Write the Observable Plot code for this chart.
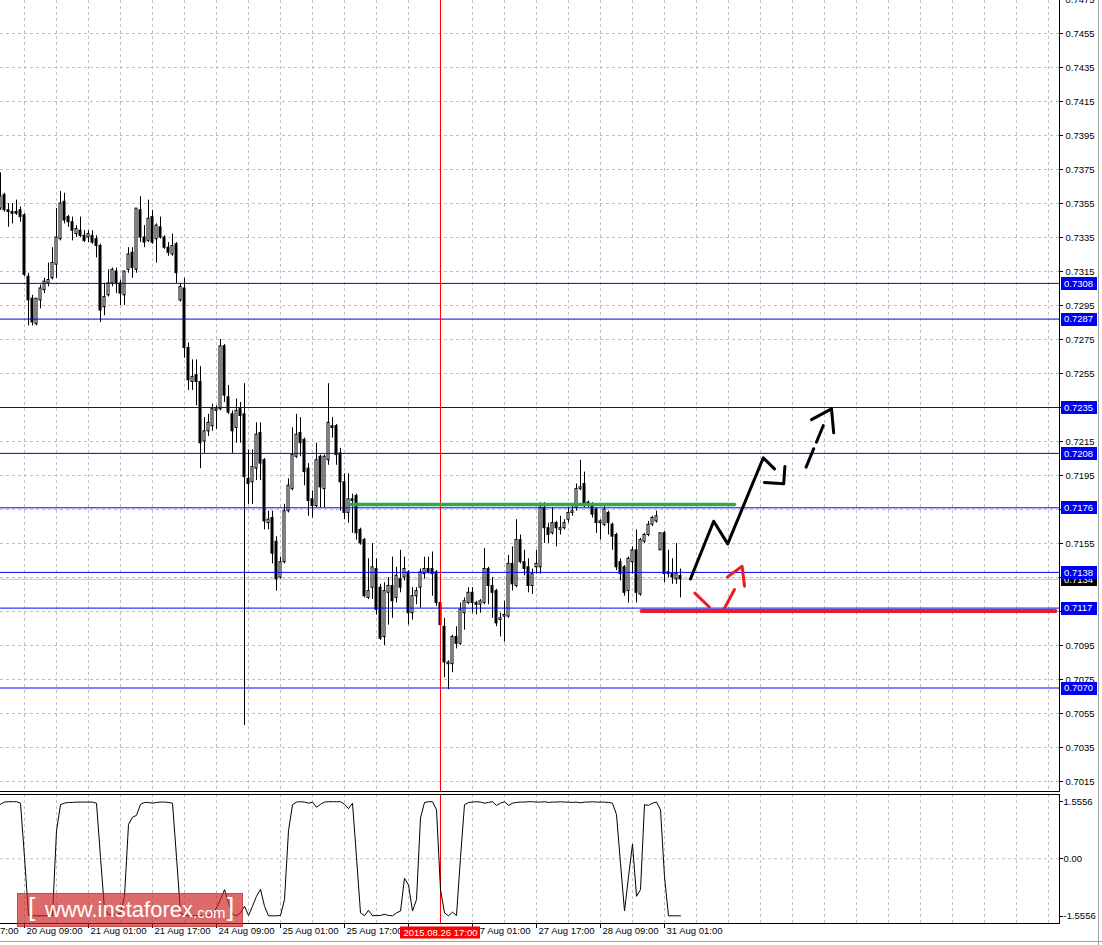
<!DOCTYPE html>
<html><head><meta charset="utf-8">
<script src="https://cdn.jsdelivr.net/npm/d3@7"></script>
<script src="https://cdn.jsdelivr.net/npm/@observablehq/plot@0.6"></script>
<style>
html,body{margin:0;padding:0;background:#fff;}
#wrap{position:relative;width:1102px;height:945px;overflow:hidden;font-family:"Liberation Sans",Arial,sans-serif;}
#wrap svg{position:absolute;left:0;display:block;}
#wm{position:absolute;left:17px;top:893px;width:226px;height:34px;background:rgba(205,30,30,0.66);border:1px solid rgba(170,40,40,0.45);box-sizing:border-box;color:#fff;white-space:nowrap;}
#wm span{position:absolute;}
#edgeR{position:absolute;left:1098px;top:0;width:1px;height:945px;background:#a0a0a0;}
#edgeB{position:absolute;left:0;top:941px;width:1102px;height:1px;background:#a0a0a0;}
</style></head><body><div id="wrap"></div>
<script>
// ---------- data ----------
const firstBar = -6; // bar index of the first candle (bar 0 = 20 Aug 09:00, H1)
const openP = [0.7352,0.7360,0.7351,0.7350,0.7350,0.7351,
0.7348,0.7312,0.7299,0.7284,0.7298,0.7304,0.7308,0.7311,0.7319,0.7334,
0.7356,0.7347,0.7344,0.7337,0.7339,0.7336,0.7335,0.7336,0.7334,0.7330,
0.7294,0.7301,0.7308,0.7315,0.7308,0.7301,0.7316,0.7326,0.7316,0.7351,
0.7335,0.7333,0.7347,0.7334,0.7341,0.7335,0.7329,0.7325,0.7331,0.7298,
0.7305,0.7270,0.7250,0.7254,0.7250,0.7215,0.7221,0.7224,0.7233,0.7234,
0.7271,0.7241,0.7231,0.7223,0.7234,0.7231,0.7193,0.7191,0.7199,0.7220,
0.7204,0.7167,0.7170,0.7156,0.7135,0.7144,0.7174,0.7187,0.7206,0.7220,
0.7216,0.7199,0.7181,0.7177,0.7206,0.7187,0.7204,0.7224,0.7224,0.7208,
0.7191,0.7173,0.7181,0.7183,0.7163,0.7157,0.7123,0.7129,0.7140,0.7129,
0.7100,0.7126,0.7130,0.7123,0.7134,0.7135,0.7138,0.7114,0.7124,0.7129,
0.7137,0.7140,0.7140,0.7138,0.7120,0.7106,0.7084,0.7084,0.7100,0.7096,
0.7114,0.7120,0.7126,0.7120,0.7119,0.7120,0.7140,0.7130,0.7127,0.7110,
0.7112,0.7112,0.7143,0.7130,0.7157,0.7144,0.7141,0.7130,0.7141,0.7141,
0.7176,0.7164,0.7161,0.7167,0.7163,0.7164,0.7169,0.7173,0.7176,0.7187,
0.7190,0.7179,0.7177,0.7175,0.7167,0.7166,0.7173,0.7166,0.7160,0.7144,
0.7141,0.7127,0.7144,0.7151,0.7125,0.7156,0.7160,0.7166,0.7168,0.7151,
0.7161,0.7138,0.7137,0.7134,0.7136];
const highP = [0.7373,0.7361,0.7355,0.7355,0.7357,0.7353,
0.7349,0.7314,0.7301,0.7299,0.7307,0.7311,0.7320,0.7329,0.7352,0.7362,
0.7361,0.7348,0.7347,0.7342,0.7347,0.7339,0.7339,0.7339,0.7336,0.7331,
0.7308,0.7316,0.7317,0.7317,0.7310,0.7315,0.7329,0.7329,0.7352,0.7359,
0.7342,0.7357,0.7351,0.7343,0.7347,0.7336,0.7332,0.7337,0.7332,0.7308,
0.7311,0.7273,0.7263,0.7263,0.7259,0.7229,0.7231,0.7237,0.7236,0.7275,
0.7272,0.7248,0.7233,0.7240,0.7238,0.7249,0.7210,0.7210,0.7226,0.7226,
0.7205,0.7174,0.7174,0.7159,0.7147,0.7178,0.7193,0.7223,0.7231,0.7229,
0.7217,0.7202,0.7186,0.7214,0.7207,0.7207,0.7249,0.7229,0.7225,0.7211,
0.7196,0.7196,0.7184,0.7184,0.7164,0.7158,0.7146,0.7155,0.7146,0.7131,
0.7132,0.7135,0.7147,0.7141,0.7151,0.7147,0.7139,0.7129,0.7129,0.7140,
0.7147,0.7147,0.7150,0.7139,0.7121,0.7111,0.7086,0.7101,0.7106,0.7120,
0.7123,0.7129,0.7129,0.7121,0.7122,0.7152,0.7141,0.7135,0.7128,0.7114,
0.7121,0.7148,0.7153,0.7169,0.7160,0.7151,0.7146,0.7140,0.7151,0.7179,
0.7179,0.7167,0.7176,0.7168,0.7171,0.7169,0.7176,0.7178,0.7190,0.7204,
0.7197,0.7180,0.7179,0.7176,0.7169,0.7178,0.7174,0.7167,0.7161,0.7146,
0.7142,0.7147,0.7153,0.7163,0.7158,0.7161,0.7168,0.7171,0.7174,0.7161,
0.7162,0.7151,0.7146,0.7155,0.7140];
const lowP = [0.7351,0.7350,0.7341,0.7343,0.7348,0.7344,
0.7312,0.7283,0.7283,0.7283,0.7293,0.7302,0.7306,0.7310,0.7311,0.7333,
0.7343,0.7341,0.7333,0.7335,0.7335,0.7332,0.7332,0.7331,0.7323,0.7285,
0.7289,0.7300,0.7306,0.7302,0.7295,0.7295,0.7314,0.7311,0.7314,0.7332,
0.7329,0.7332,0.7331,0.7320,0.7334,0.7328,0.7324,0.7324,0.7308,0.7297,
0.7264,0.7245,0.7245,0.7236,0.7199,0.7208,0.7218,0.7221,0.7222,0.7233,
0.7238,0.7231,0.7208,0.7214,0.7214,0.7048,0.7178,0.7178,0.7192,0.7192,
0.7163,0.7163,0.7143,0.7127,0.7134,0.7143,0.7173,0.7186,0.7205,0.7206,
0.7189,0.7171,0.7170,0.7176,0.7176,0.7176,0.7201,0.7217,0.7201,0.7174,
0.7169,0.7167,0.7161,0.7157,0.7154,0.7123,0.7122,0.7122,0.7113,0.7098,
0.7095,0.7107,0.7111,0.7120,0.7126,0.7133,0.7107,0.7110,0.7119,0.7117,
0.7134,0.7137,0.7124,0.7118,0.7106,0.7076,0.7069,0.7079,0.7093,0.7095,
0.7104,0.7119,0.7114,0.7113,0.7114,0.7119,0.7119,0.7111,0.7106,0.7100,
0.7097,0.7111,0.7127,0.7129,0.7143,0.7136,0.7126,0.7125,0.7137,0.7137,
0.7155,0.7155,0.7160,0.7153,0.7160,0.7163,0.7167,0.7171,0.7174,0.7186,
0.7176,0.7176,0.7170,0.7161,0.7157,0.7165,0.7160,0.7151,0.7139,0.7133,
0.7124,0.7120,0.7137,0.7120,0.7124,0.7155,0.7159,0.7165,0.7167,0.7151,
0.7132,0.7135,0.7131,0.7131,0.7123];
const closeP = [0.7359,0.7351,0.7350,0.7349,0.7349,0.7347,
0.7313,0.7298,0.7285,0.7299,0.7305,0.7309,0.7310,0.7320,0.7335,0.7355,
0.7345,0.7344,0.7339,0.7340,0.7336,0.7333,0.7337,0.7332,0.7330,0.7292,
0.7300,0.7308,0.7316,0.7308,0.7302,0.7315,0.7325,0.7317,0.7352,0.7335,
0.7332,0.7346,0.7332,0.7342,0.7335,0.7329,0.7326,0.7330,0.7314,0.7306,
0.7270,0.7251,0.7253,0.7250,0.7214,0.7221,0.7226,0.7234,0.7234,0.7271,
0.7242,0.7232,0.7221,0.7233,0.7230,0.7194,0.7190,0.7200,0.7219,0.7202,
0.7168,0.7169,0.7149,0.7134,0.7144,0.7174,0.7189,0.7207,0.7219,0.7214,
0.7197,0.7180,0.7177,0.7204,0.7188,0.7206,0.7226,0.7223,0.7207,0.7191,
0.7173,0.7181,0.7180,0.7161,0.7155,0.7124,0.7127,0.7141,0.7116,0.7099,
0.7127,0.7130,0.7121,0.7136,0.7129,0.7140,0.7114,0.7124,0.7127,0.7138,
0.7140,0.7138,0.7137,0.7120,0.7107,0.7085,0.7085,0.7100,0.7096,0.7116,
0.7121,0.7126,0.7120,0.7119,0.7121,0.7140,0.7130,0.7126,0.7108,0.7111,
0.7113,0.7143,0.7131,0.7157,0.7144,0.7140,0.7130,0.7137,0.7143,0.7176,
0.7164,0.7160,0.7167,0.7164,0.7164,0.7167,0.7173,0.7174,0.7187,0.7188,
0.7177,0.7178,0.7172,0.7167,0.7168,0.7175,0.7167,0.7159,0.7141,0.7137,
0.7126,0.7146,0.7151,0.7126,0.7157,0.7160,0.7166,0.7170,0.7171,0.7161,
0.7137,0.7137,0.7135,0.7137,0.7134];
const indicatorV = [1.48,1.54,1.55,1.55,1.55,1.51,
0.04,-1.54,-1.55,-1.55,-1.55,-1.55,-1.55,-1.54,0.76,1.47,
1.51,1.53,1.53,1.54,1.54,1.54,1.54,1.54,1.51,0.04,
-1.38,-1.51,-1.54,-1.51,-1.48,-1.02,0.93,1.13,1.18,1.48,
1.53,1.53,1.51,1.53,1.54,1.54,1.53,1.51,0.04,-1.47,
-1.54,-1.55,-1.55,-1.55,-1.55,-1.55,-1.54,-1.51,-1.33,-1.11,
-0.84,-1.20,-1.51,-1.55,-1.47,-1.29,-1.54,-1.29,-1.02,-0.83,
-1.29,-1.55,-1.55,-1.55,-1.54,-1.11,0.76,1.47,1.54,1.55,
1.54,1.51,1.54,1.40,1.48,1.54,1.55,1.55,1.55,1.55,
1.48,1.36,1.51,0.04,-1.47,-1.55,-1.40,-1.55,-1.54,-1.54,
-1.51,-1.54,-1.55,-1.47,-1.42,-0.53,-0.71,-1.42,-1.11,1.11,
1.53,1.55,1.55,1.33,-0.84,-1.47,-1.55,-1.45,-1.54,0.04,
1.47,1.53,1.54,1.55,1.54,1.51,1.53,1.55,1.45,1.51,
1.55,1.45,1.51,1.53,1.54,1.54,1.55,1.55,1.54,1.54,
1.55,1.53,1.54,1.54,1.55,1.54,1.54,1.53,1.54,1.52,
1.54,1.54,1.55,1.54,1.54,1.54,1.53,1.51,1.20,-0.13,
-1.42,-0.49,0.40,-1.02,-0.84,1.47,1.45,1.51,1.54,1.33,
-0.49,-1.55,-1.55,-1.55,-1.55];

// price-axis tick labels (those hidden behind level boxes in the reference are left out)
const priceTicks = [0.7015,0.7035,0.7055,0.7075,0.7095,0.7115,0.7135,0.7155,0.7175,0.7195,0.7215,0.7235,
  0.7255,0.7275,0.7295,0.7315,0.7335,0.7355,0.7375,0.7395,0.7415,0.7435,0.7455,0.7475];
const hiddenPriceLabels = [0.7115,0.7135,0.7175,0.7235];
const levelPrices = [0.7308,0.7287,0.7235,0.7208,0.7176,0.7138,0.7117,0.7070];
const bidPrice = 0.7134;
const indTicks = [1.5556, 0, -1.5556];
const indTickLabels = ["1.5556", "0.00", "-1.5556"];
const gridBars = [0,8,16,24,32,40,48,56,64,72,80,88,96,104,112,120,128,136,144,152,160,168,176,184,192,200,208,216,224,232,240,248,256];
const timeLabelBars = [-16,0,16,32,48,64,80,112,128,144,160];
const timeLabels = ["19 Aug 17:00","20 Aug 09:00","21 Aug 01:00","21 Aug 17:00","24 Aug 09:00","25 Aug 01:00",
  "25 Aug 17:00","27 Aug 01:00","27 Aug 17:00","28 Aug 09:00","31 Aug 01:00"];
const timeTickBars = [-16,0,16,32,48,64,80,96,112,128,144,160];
const markerBar = 104;
const markerLabel = "2015.08.26 17:00";
// drawn annotations (bar index, price)
const greenLine = [{i:81.5, p:0.7178},{i:177.5, p:0.7178}];
const redLine = [{i:154.25, p:0.71153},{i:257.75, p:0.71153}];
const blackPath1 = [{i:166.5,p:0.71342},{i:172.3,p:0.71681},{i:175.8,p:0.71548},{i:184.7,p:0.72054},{i:187.5,p:0.71989}];
const blackPath2 = [{i:185,p:0.71909},{i:189.8,p:0.71901},{i:190.1,p:0.72003}];
const blackDashed = [{i:195.4,p:0.71999},{i:199.7,p:0.72244}];
const blackHead = [{i:196.75,p:0.72279},{i:201.75,p:0.72342},{i:202.3,p:0.72201}];
const redPath1 = [{i:167.6,p:0.71258},{i:171.25,p:0.71175}];
const redPath2 = [{i:174.8,p:0.71160},{i:177.5,p:0.71279}];
const redHead = [{i:175.7,p:0.71352},{i:179.4,p:0.71416},{i:180,p:0.71299}];

// ---------- build ----------
const bars = openP.map((o,k) => ({i:firstBar+k, o, h:highP[k], l:lowP[k], c:closeP[k]}));
const upBars = bars.filter(d => d.c >= d.o);
const downBars = bars.filter(d => d.c < d.o);
const indData = indicatorV.map((v,k) => ({i:firstBar+k, v}));
const shownPriceLabels = priceTicks.filter(t => !hiddenPriceLabels.includes(t));

const xDomain = [-6, 258.75];
const FF = "'Liberation Sans', Arial, sans-serif";
const font = {fontFamily:FF, fontSize:"9.5px", background:"transparent"};
const grid = "#c0c0c0";

const main = Plot.plot({
  width:1102, height:792, marginLeft:0, marginRight:43, marginTop:0, marginBottom:1,
  style: font,
  x:{type:"linear", domain:xDomain, axis:null},
  y:{type:"linear", domain:[0.7009118, 0.7474412], axis:null},
  marks:[
    Plot.ruleY(priceTicks, {stroke:grid, strokeDasharray:"3,3"}),
    Plot.ruleX(gridBars, {stroke:grid, strokeDasharray:"3,3"}),
    Plot.ruleY([bidPrice], {stroke:"#c0c0c0"}),
    Plot.ruleX(bars, {x:"i", y1:"l", y2:"h", stroke:"#000"}),
    Plot.rect(downBars, {x1:d=>d.i-0.25, x2:d=>d.i+0.25, y1:"o", y2:"c", fill:"#000", stroke:"#000"}),
    Plot.rect(upBars, {x1:d=>d.i-0.25, x2:d=>d.i+0.25, y1:"o", y2:"c", fill:"#fff", stroke:"#000"}),
    Plot.ruleY(levelPrices, {stroke:"#0000ff"}),
    Plot.ruleX([markerBar], {stroke:"#ff0000"}),
    Plot.line(greenLine, {x:"i", y:"p", stroke:"#27ad4b", strokeWidth:3.5}),
    Plot.line(redLine, {x:"i", y:"p", stroke:"#ec1c24", strokeWidth:4}),
    Plot.line(blackPath1, {x:"i", y:"p", stroke:"#000", strokeWidth:3}),
    Plot.line(blackPath2, {x:"i", y:"p", stroke:"#000", strokeWidth:3}),
    Plot.line(blackDashed, {x:"i", y:"p", stroke:"#000", strokeWidth:3, strokeDasharray:"20,7"}),
    Plot.line(blackHead, {x:"i", y:"p", stroke:"#000", strokeWidth:3}),
    Plot.line(redPath1, {x:"i", y:"p", stroke:"#ec1c24", strokeWidth:3}),
    Plot.line(redPath2, {x:"i", y:"p", stroke:"#ec1c24", strokeWidth:3}),
    Plot.line(redHead, {x:"i", y:"p", stroke:"#ec1c24", strokeWidth:3}),
    Plot.text(shownPriceLabels, {y:d=>d, text:d=>d.toFixed(4), frameAnchor:"right", textAnchor:"start", dx:6, fill:"#000"})
  ]
});
main.style.top = "0px";

const ind = Plot.plot({
  width:1102, height:153, marginLeft:0, marginRight:43, marginTop:2, marginBottom:22,
  style: font,
  x:{type:"linear", domain:xDomain, axis:null},
  y:{type:"linear", domain:[-1.759, 1.746], axis:null},
  marks:[
    Plot.ruleY([0], {stroke:grid, strokeDasharray:"3,3"}),
    Plot.ruleX(gridBars, {stroke:grid, strokeDasharray:"3,3"}),
    Plot.ruleX([markerBar], {stroke:"#ff0000"}),
    Plot.line(indData, {x:"i", y:"v", stroke:"#000", strokeWidth:1}),
    Plot.text(indTicks, {y:d=>d, text:(d,k)=>indTickLabels[k], frameAnchor:"right", textAnchor:"start", dx:4, fill:"#000"}),
    Plot.text(timeLabelBars, {x:d=>d, text:(d,k)=>timeLabels[k], frameAnchor:"bottom", textAnchor:"start", dx:2, dy:10, fill:"#000"})
  ]
});
ind.style.top = "792px";

// ---------- chrome drawn with the plots' scales ----------
function chrome(svg, yTicks, boxes) {
  const X = svg.scale("x"), Y = svg.scale("y");
  const xr = X.range[1], yTop = Y.range[1], yBot = Y.range[0];
  const s = d3.select(svg);
  const g = s.append("g").attr("shape-rendering","crispEdges");
  g.append("line").attr("x1",xr+0.5).attr("x2",xr+0.5).attr("y1",yTop).attr("y2",yBot+1).attr("stroke","#000");
  g.append("line").attr("x1",0).attr("x2",xr+1).attr("y1",yBot+0.5).attr("y2",yBot+0.5).attr("stroke","#000");
  for (const t of yTicks) {
    const y = Math.round(Y.apply(t)) + 0.5;
    g.append("line").attr("x1",xr).attr("x2",xr+4).attr("y1",y).attr("y2",y).attr("stroke","#000");
  }
  for (const b of boxes) {
    const y = Y.apply(b.p);
    const bg = s.append("g");
    bg.append("rect").attr("x",xr+2).attr("y",Math.round(y)-6).attr("width",36).attr("height",13).attr("fill",b.fill);
    bg.append("text").attr("x",xr+5).attr("y",y+0.5).attr("dy","0.35em").attr("fill","#fff")
      .attr("text-anchor","start").attr("font-size","9.5px").attr("font-family",FF).text(b.p.toFixed(4));
  }
  return {X, Y, xr, yTop, yBot, s, g};
}
const mainBoxes = [{p:bidPrice, fill:"#000"}].concat(levelPrices.map(p => ({p, fill:"#0000f0"})));
chrome(main, priceTicks, mainBoxes);
const ic = chrome(ind, indTicks, []);
// indicator top border
ic.g.append("line").attr("x1",0).attr("x2",ic.xr+1).attr("y1",ic.yTop+0.5).attr("y2",ic.yTop+0.5).attr("stroke","#000");
// time ticks
for (const b of timeTickBars) {
  const x = Math.round(ic.X.apply(b)) + 0.5;
  ic.g.append("line").attr("x1",x).attr("x2",x).attr("y1",ic.yBot).attr("y2",ic.yBot+5).attr("stroke","#000");
}
// marker time label
{
  const xc = ic.X.apply(markerBar);
  ic.s.append("rect").attr("x",Math.round(xc)-40).attr("y",ic.yBot+3.5).attr("width",80).attr("height",12).attr("fill","#ff0000");
  ic.s.append("text").attr("x",xc+0.5).attr("y",ic.yBot+10).attr("dy","0.35em").attr("text-anchor","middle")
    .attr("fill","#fff").attr("font-size","9.5px").attr("font-family",FF).text(markerLabel);
}

const wrap = document.getElementById("wrap");
wrap.appendChild(main);
wrap.appendChild(ind);
const wm = document.createElement("div");
wm.id = "wm";
wm.innerHTML = '<span style="left:10px;top:-2px;font-size:26px;font-weight:300;">[</span>' +
  '<span style="left:27px;top:3px;font-size:22px;">www.instaforex</span>' +
  '<span style="left:175px;top:10px;font-size:15px;">.com</span>' +
  '<span style="left:209px;top:-2px;font-size:26px;font-weight:300;">]</span>';
wrap.appendChild(wm);
const er = document.createElement("div"); er.id = "edgeR"; wrap.appendChild(er);
const eb = document.createElement("div"); eb.id = "edgeB"; wrap.appendChild(eb);
</script></body></html>
